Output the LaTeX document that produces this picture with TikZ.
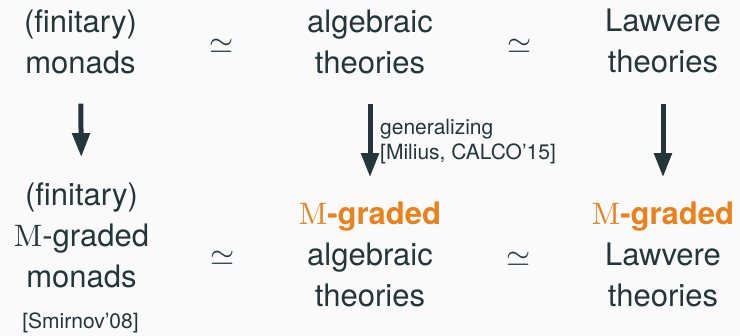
\documentclass[tikz,border=0pt]{standalone}
\usepackage{fix-cm}
\usepackage{amsmath, amssymb}
\usepackage[no-math]{fontspec}
\setmainfont{TeX Gyre Heros}
\newfontfamily\lmfont{lmroman10-regular.otf}
\usetikzlibrary{arrows.meta}

\definecolor{mDark}{HTML}{23373B}
\definecolor{mOrange}{HTML}{EB811B}
\definecolor{mBg}{HTML}{FAFAFA}
\newcommand{\Mlet}{{\lmfont M}}
\newcommand{\Mgr}{\textcolor{mOrange}{\Mlet\textbf{-graded}}}

\begin{document}
\begin{tikzpicture}[x=1pt, y=-1pt,
    every node/.style={inner sep=0pt, text=mDark},
    cell/.style={align=center, anchor=base, font=\fontsize{31}{41}\selectfont},
    small/.style={font=\fontsize{21}{25}\selectfont},
    equiv/.style={font=\fontsize{31}{41}\selectfont},
    imp/.style={draw=mDark, line width=5pt, -{Triangle[width=17pt, length=24pt]}}]
    % 1. 背景与边界
    \fill[mBg] (0,0) rectangle (740,336);
    \useasboundingbox (0,0) rectangle (740,336);

    % 2. 上面一行 (基线取最后一行)
    \node[cell] (MonTop) at (80.5, 74) {(finitary)\\monads};
    \node[cell] (AlgTop) at (370, 74) {algebraic\\theories};
    \node[cell] (LawTop) at (663, 73) {Lawvere\\theories};
    \node[equiv] (EqTopL) at (222, 46) {$\simeq$};
    \node[equiv] (EqTopR) at (520, 46) {$\simeq$};

    % 3. 下面一行 (graded 版本)
    \node[cell] (MonBot) at (81.5, 288) {(finitary)\\\Mlet-graded\\monads};
    \node[cell] (AlgBot) at (370, 307) {\Mgr\\algebraic\\theories};
    \node[cell] (LawBot) at (663, 307) {\Mgr\\Lawvere\\theories};
    \node[equiv] (EqBotL) at (223, 258) {$\simeq$};
    \node[equiv] (EqBotR) at (519, 259) {$\simeq$};
    \node[small, anchor=base] (Smir) at (80.5, 329) {[Smirnov'08]};

    % 4. 竖直箭头
    \draw[imp, shorten <=29pt, shorten >=26pt] (MonTop.south) -- (MonBot.north);
    \draw[imp, shorten <=29pt, shorten >=25pt] (AlgTop.south) -- (AlgBot.north);
    \draw[imp, shorten <=30pt, shorten >=25pt] (LawTop.south) -- (LawBot.north);

    % 5. 箭头旁的说明
    \node[small, align=left, anchor=base west] (Gen) at (380, 160)
        {generalizing\\[0pt][Milius, CALCO'15]};
\end{tikzpicture}
\end{document}
